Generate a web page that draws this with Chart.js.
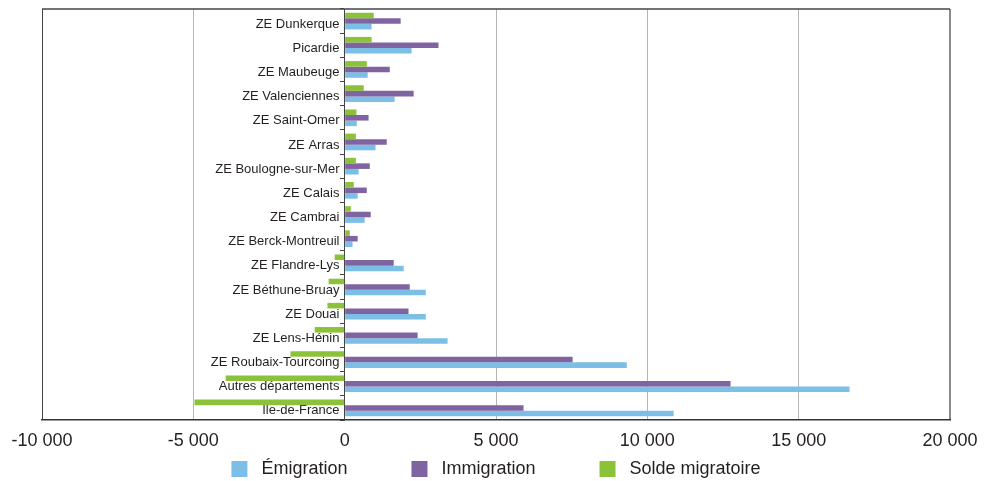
<!DOCTYPE html>
<html lang="fr">
<head>
<meta charset="utf-8">
<title>Migrations par zone d'emploi</title>
<script src="https://cdn.jsdelivr.net/npm/chart.js@4.4.1/dist/chart.umd.min.js"></script>
<style>
    html, body { margin: 0; padding: 0; background: #ffffff; }
    #wrap { width: 993px; height: 481px; position: relative; }
</style>
</head>
<body>
<div id="wrap"><canvas id="migration-chart"></canvas></div>
<script>
// Zones, top to bottom
const zones = [
    'ZE Dunkerque', 'Picardie', 'ZE Maubeuge', 'ZE Valenciennes', 'ZE Saint-Omer',
    'ZE Arras', 'ZE Boulogne-sur-Mer', 'ZE Calais', 'ZE Cambrai', 'ZE Berck-Montreuil',
    'ZE Flandre-Lys', 'ZE Béthune-Bruay', 'ZE Douai', 'ZE Lens-Hénin',
    'ZE Roubaix-Tourcoing', 'Autres départements', 'Île-de-France'
];

const emigration = [
    890, 2210, 760, 1650, 400,
    1020, 460, 430, 660, 260,
    1950, 2680, 2680, 3400,
    9320, 16680, 10870
];

const immigration = [
    1850, 3100, 1490, 2280, 790,
    1390, 830, 730, 860, 430,
    1620, 2150, 2110, 2410,
    7530, 12750, 5910
];

const solde = [
    960, 890, 730, 630, 390,
    370, 370, 300, 200, 170,
    -330, -530, -570, -990,
    -1790, -3930, -4960
];

const xTickValues = [-10000, -5000, 0, 5000, 10000, 15000, 20000];

const COLORS = {
    emigration: '#7bbee6',
    immigration: '#8063a1',
    solde: '#8cc13a'
};

const TEXT = '#231f20';
const FONT = "'Liberation Sans', Arial, sans-serif";

// "10000" -> "10 000"
function formatThousands(v) {
    const s = String(Math.abs(v)).replace(/\B(?=(\d{3})+(?!\d))/g, ' ');
    return (v < 0 ? '-' : '') + s;
}

// frame line along the top of the plot area
const topFrame = {
    id: 'topFrame',
    afterDraw(chart) {
        const { ctx, chartArea } = chart;
        ctx.save();
        ctx.strokeStyle = '#444444';
        ctx.lineWidth = 1.5;
        ctx.beginPath();
        ctx.moveTo(chartArea.left, chartArea.top);
        ctx.lineTo(chartArea.right, chartArea.top);
        ctx.stroke();
        ctx.restore();
    }
};

const ctx = document.getElementById('migration-chart').getContext('2d');

new Chart(ctx, {
    type: 'bar',
    data: {
        labels: zones,
        datasets: [
            { label: 'Solde migratoire', data: solde, backgroundColor: COLORS.solde },
            { label: 'Immigration', data: immigration, backgroundColor: COLORS.immigration },
            { label: 'Émigration', data: emigration, backgroundColor: COLORS.emigration }
        ]
    },
    options: {
        indexAxis: 'y',
        responsive: true,
        maintainAspectRatio: false,
        animation: false,
        categoryPercentage: 0.69,
        barPercentage: 1.0,
        layout: {
            padding: { left: 42, right: 43, top: 9, bottom: 0 }
        },
        plugins: {
            tooltip: { enabled: false },
            legend: {
                position: 'bottom',
                reverse: true,
                maxHeight: 30,
                labels: {
                    color: TEXT,
                    font: { family: FONT, size: 18 },
                    boxWidth: 16,
                    boxHeight: 16,
                    padding: 9,
                    generateLabels(chart) {
                        const items = Chart.defaults.plugins.legend.labels.generateLabels(chart);
                        items.forEach(item => {
                            item.lineWidth = 0;
                            item.text = ' ' + item.text + (item.datasetIndex > 0 ? '           ' : '');
                        });
                        return items;
                    }
                }
            }
        },
        scales: {
            x: {
                min: -10000,
                max: 20000,
                afterBuildTicks(axis) {
                    axis.ticks = xTickValues.map(v => ({ value: v }));
                },
                afterFit(axis) {
                    axis.height = 31;
                },
                grid: {
                    drawTicks: false,
                    color(c) {
                        if (c.tick.value === -10000) return '#444444';
                        if (c.tick.value === 20000) return '#8a8a8a';
                        return '#b5b5b5';
                    },
                    lineWidth(c) {
                        return c.tick.value === 20000 ? 2 : 1;
                    }
                },
                border: { color: '#333333', width: 1.5 },
                ticks: {
                    color: TEXT,
                    padding: 10,
                    font: { family: FONT, size: 18 },
                    callback: v => formatThousands(v)
                }
            },
            y: {
                position: { x: 0 },
                offset: true,
                afterFit(axis) {
                    axis.paddingTop = 0;
                    axis.paddingBottom = 0;
                },
                grid: {
                    offset: true,
                    drawOnChartArea: false,
                    drawTicks: true,
                    tickLength: 4,
                    color: '#444444'
                },
                border: { display: true, color: '#444444', width: 1 },
                ticks: {
                    color: TEXT,
                    labelOffset: 3,
                    font: { family: FONT, size: 13 },
                    // labels sit just left of the tick marks
                    callback: (v, i) => zones[i] + '\u2009\u2009'
                }
            }
        }
    },
    plugins: [topFrame]
});
</script>
</body>
</html>
